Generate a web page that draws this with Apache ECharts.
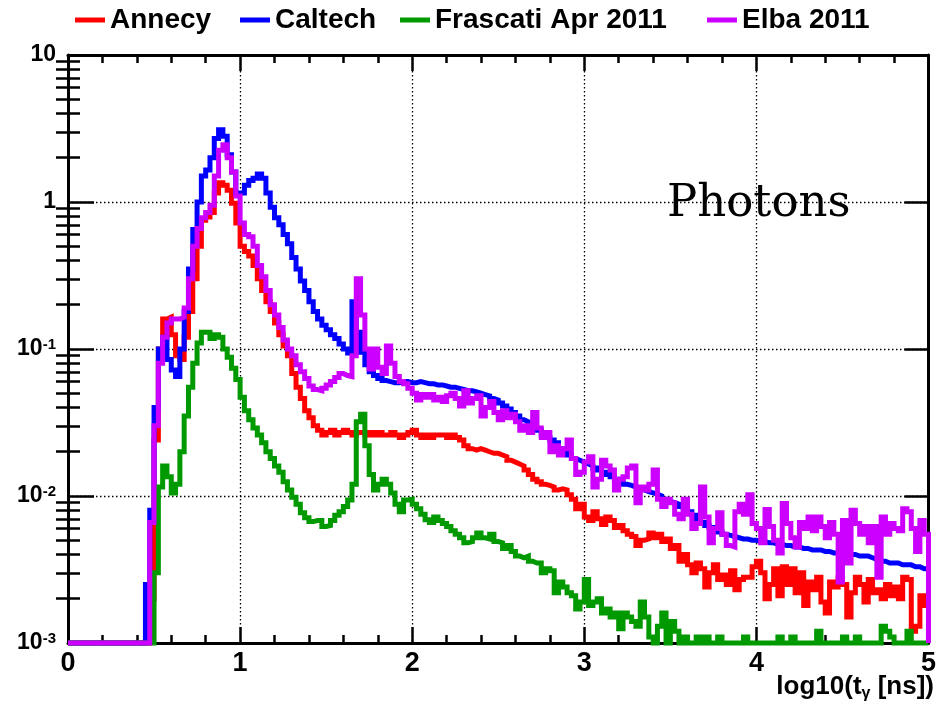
<!DOCTYPE html>
<html><head><meta charset="utf-8">
<script src="https://cdn.jsdelivr.net/npm/echarts@6/dist/echarts.min.js"></script>
<style>html,body{margin:0;padding:0;background:#fff}#c{width:939px;height:709px}</style>
</head><body><div id="c"></div>
<script>
// Histogram: 200 bins of width 0.025 in log10(t [ns]) from 0 to 5
const BIN_WIDTH = 0.025;
const X_MIN = 0, X_MAX = 5;
const Y_MIN = 0.001, Y_MAX = 10;
const seriesNames = ['Annecy', 'Caltech', 'Frascati Apr 2011', 'Elba 2011'];
const seriesColors = ['#ff0000', '#0000ff', '#009900', '#cc00ff'];

const annecy = [
0.001,0.001,0.001,0.001,0.001,0.001,0.001,0.001,0.001,0.001,
0.001,0.001,0.001,0.001,0.001,0.001,0.001,0.001,0.001,0.002,
0.024,0.1,0.16,0.165,0.125,0.09,0.085,0.12,0.18,0.3,
0.5,0.75,0.79,0.85,1.15,1.35,1.3,1.2,0.98,0.72,
0.5,0.46,0.43,0.37,0.3,0.25,0.21,0.18,0.15,0.125,
0.105,0.09,0.068,0.055,0.046,0.038,0.034,0.030,0.028,0.026,
0.027,0.028,0.026,0.027,0.028,0.027,0.026,0.027,0.027,0.026,
0.027,0.026,0.027,0.026,0.026,0.027,0.026,0.025,0.026,0.027,
0.028,0.026,0.025,0.026,0.025,0.026,0.026,0.026,0.025,0.026,
0.025,0.024,0.022,0.021,0.0205,0.021,0.0205,0.020,0.0195,0.0195,
0.019,0.0185,0.0175,0.017,0.0165,0.016,0.015,0.014,0.013,0.0125,
0.012,0.0118,0.0115,0.011,0.0112,0.011,0.0102,0.0095,0.0082,0.0088,
0.0072,0.0068,0.0078,0.0070,0.0064,0.0072,0.0068,0.0061,0.0063,0.0058,
0.0055,0.0053,0.0046,0.0050,0.0051,0.0056,0.0052,0.0055,0.0049,0.0051,
0.0044,0.0046,0.0036,0.0040,0.0034,0.0030,0.0035,0.0032,0.0024,0.0030,
0.0034,0.0027,0.0029,0.0025,0.0031,0.0023,0.0027,0.0028,0.0028,0.0033,
0.0036,0.0030,0.0020,0.0025,0.0032,0.0021,0.0033,0.0025,0.0032,0.0022,
0.0030,0.0018,0.0026,0.0023,0.0028,0.0019,0.0016,0.0026,0.0024,0.0028,
0.0025,0.0015,0.0022,0.0028,0.0025,0.0019,0.0027,0.0022,0.0023,0.0020,
0.0025,0.0021,0.0024,0.0020,0.0028,0.0027,0.0012,0.0013,0.0021,0.0018
];

const caltech = [
0.001,0.001,0.001,0.001,0.001,0.001,0.001,0.001,0.001,0.001,
0.001,0.001,0.001,0.001,0.001,0.001,0.001,0.001,0.0025,0.008,
0.04,0.1,0.12,0.085,0.072,0.065,0.1,0.18,0.35,0.65,
1.0,1.5,1.65,2.0,2.7,3.1,2.8,2.1,1.6,1.15,
1.15,1.3,1.4,1.45,1.55,1.45,1.15,0.92,0.78,0.7,
0.6,0.52,0.42,0.35,0.29,0.25,0.21,0.18,0.16,0.145,
0.135,0.125,0.118,0.108,0.1,0.094,0.21,0.13,0.095,0.078,
0.07,0.066,0.063,0.061,0.06,0.059,0.059,0.06,0.06,0.059,
0.059,0.06,0.059,0.058,0.058,0.057,0.057,0.056,0.055,0.055,
0.054,0.053,0.052,0.052,0.051,0.050,0.049,0.048,0.046,0.045,
0.043,0.041,0.039,0.037,0.035,0.033,0.032,0.030,0.029,0.028,
0.026,0.025,0.024,0.023,0.021,0.020,0.019,0.018,0.0175,0.017,
0.0165,0.016,0.0155,0.015,0.0145,0.014,0.0135,0.013,0.0125,0.012,
0.0118,0.0115,0.0112,0.011,0.0107,0.0105,0.0103,0.010,0.0095,0.0092,
0.009,0.0088,0.0085,0.0082,0.0078,0.0074,0.0070,0.0066,0.0063,0.0061,
0.0059,0.0057,0.0055,0.0054,0.0053,0.0052,0.0051,0.0051,0.0050,0.0050,
0.0049,0.0049,0.0048,0.0048,0.0047,0.0047,0.0046,0.0046,0.0045,0.0045,
0.0044,0.0044,0.0043,0.0043,0.0043,0.0042,0.0042,0.0041,0.0041,0.0040,
0.0040,0.0040,0.0040,0.0039,0.0039,0.0039,0.0038,0.0037,0.0036,0.0036,
0.0035,0.0035,0.0035,0.0034,0.0034,0.0034,0.0033,0.0033,0.0032,0.0032
];

const frascati = [
0.001,0.001,0.001,0.001,0.001,0.001,0.001,0.001,0.001,0.001,
0.001,0.001,0.001,0.001,0.001,0.001,0.001,0.001,0.001,0.001,
0.003,0.0115,0.016,0.0135,0.0105,0.012,0.02,0.035,0.055,0.08,
0.11,0.13,0.13,0.118,0.125,0.12,0.1,0.088,0.074,0.062,
0.047,0.038,0.033,0.029,0.026,0.023,0.02,0.018,0.016,0.0145,
0.0125,0.011,0.0098,0.0088,0.0077,0.0071,0.0067,0.0068,0.0068,0.0062,
0.0063,0.0068,0.0074,0.0078,0.0085,0.0094,0.012,0.032,0.036,0.022,
0.014,0.011,0.012,0.013,0.012,0.0105,0.0088,0.0078,0.0094,0.0095,
0.0088,0.0082,0.0075,0.0069,0.0066,0.0072,0.0068,0.0065,0.0062,0.0058,
0.0055,0.0052,0.0048,0.0049,0.0052,0.0056,0.0052,0.0051,0.0055,0.0049,
0.0048,0.0044,0.0046,0.0042,0.0039,0.0038,0.0039,0.0036,0.0035,0.0035,
0.0030,0.0032,0.0031,0.0022,0.0026,0.0024,0.0022,0.0021,0.0017,0.0019,
0.0027,0.0018,0.0019,0.0020,0.0016,0.0017,0.0015,0.0016,0.00125,0.0016,
0.0015,0.0014,0.0013,0.0019,0.0015,0.0011,0.001,0.0013,0.0016,0.001,
0.0014,0.0012,0.001,0.0011,0.001,0.001,0.0011,0.001,0.0011,0.001,
0.001,0.0011,0.001,0.001,0.001,0.001,0.001,0.0011,0.001,0.001,
0.001,0.001,0.001,0.001,0.001,0.0011,0.001,0.001,0.0011,0.001,
0.001,0.001,0.001,0.001,0.0012,0.001,0.001,0.001,0.001,0.001,
0.0011,0.001,0.001,0.0011,0.001,0.001,0.001,0.001,0.001,0.0013,
0.0012,0.0011,0.001,0.001,0.001,0.0012,0.001,0.001,0.001,0.001
];

const elba = [
0.001,0.001,0.001,0.001,0.001,0.001,0.001,0.001,0.001,0.001,
0.001,0.001,0.001,0.001,0.001,0.001,0.001,0.001,0.001,0.0066,
0.03,0.08,0.12,0.15,0.16,0.16,0.165,0.19,0.3,0.5,
0.66,0.78,0.85,0.95,1.5,2.25,2.45,2.0,1.6,1.1,
0.72,0.6,0.58,0.5,0.37,0.31,0.25,0.2,0.17,0.14,
0.115,0.1,0.09,0.078,0.07,0.063,0.056,0.053,0.052,0.054,
0.057,0.06,0.064,0.068,0.066,0.065,0.09,0.3,0.17,0.1,
0.073,0.1,0.075,0.068,0.105,0.08,0.065,0.06,0.058,0.054,
0.05,0.045,0.049,0.047,0.049,0.045,0.047,0.044,0.048,0.05,
0.046,0.041,0.052,0.043,0.046,0.048,0.035,0.04,0.044,0.037,
0.033,0.038,0.034,0.036,0.032,0.028,0.03,0.027,0.037,0.029,
0.025,0.027,0.02,0.022,0.019,0.021,0.024,0.018,0.014,0.0145,
0.017,0.0185,0.0115,0.013,0.0175,0.016,0.015,0.011,0.013,0.0135,
0.0155,0.016,0.009,0.0115,0.011,0.012,0.015,0.0095,0.0085,0.0095,
0.009,0.0075,0.007,0.0095,0.0075,0.006,0.0065,0.0115,0.0072,0.0048,
0.006,0.0077,0.0055,0.0046,0.0045,0.0078,0.0088,0.0075,0.0102,0.0065,
0.006,0.0048,0.0081,0.0062,0.005,0.0041,0.0089,0.0065,0.0052,0.0045,
0.0066,0.006,0.0072,0.0058,0.0072,0.0062,0.0052,0.0066,0.0055,0.0026,
0.0068,0.0035,0.008,0.0065,0.0055,0.0062,0.0048,0.0062,0.0028,0.0072,
0.0055,0.0065,0.006,0.0058,0.0082,0.0078,0.006,0.0042,0.0068,0.0055
];

const yMajorTicks = [0.001, 0.01, 0.1, 1, 10];
const yMinorTicks = [
0.002,0.003,0.004,0.005,0.006,0.007,0.008,0.009,
0.02,0.03,0.04,0.05,0.06,0.07,0.08,0.09,
0.2,0.3,0.4,0.5,0.6,0.7,0.8,0.9,
2,3,4,5,6,7,8,9
];
const xAxisTitle = 'log10(t{sub|γ} [ns])';
const annotation = 'Photons';

const allValues = [annecy, caltech, frascati, elba];

// histogram outline: value held over each bin, closed to the axis floor at the upper edge
function histPoints(vals) {
  const pts = vals.map((v, i) => [i * BIN_WIDTH, v]);
  pts.push([X_MAX, vals[vals.length - 1]]);
  pts.push([X_MAX, Y_MIN]);
  return pts;
}

const FONT = 'Liberation Sans';
const chart = echarts.init(document.getElementById('c'), null, {renderer: 'canvas'});

const yLabelFmt = function (v) {
  const e = Math.round(Math.log10(v));
  if (e === 0) return '1';
  if (e === 1) return '10';
  return '10{sup|' + e + '}';
};

const xCommon = {
  type: 'value', min: X_MIN, max: X_MAX, interval: 1,
  axisLine: {show: true, onZero: false, lineStyle: {color: '#000', width: 3}},
  axisTick: {show: true, inside: true, length: 16, lineStyle: {color: '#000', width: 2.5}},
  minorTick: {show: true, splitNumber: 5, length: 8, lineStyle: {color: '#000', width: 2.5}}
};

const yMajor = (pos, len, labels, split) => ({
  type: 'log', logBase: 10, min: Y_MIN, max: Y_MAX, position: pos, offset: 0,
  axisLine: {show: true, onZero: false, lineStyle: {color: '#000', width: 3}},
  axisTick: {show: true, inside: true, length: len, customValues: yMajorTicks, lineStyle: {color: '#000', width: 2.5}},
  axisLabel: labels ? {
    show: true, margin: 12, formatter: yLabelFmt, customValues: yMajorTicks,
    color: '#000', fontFamily: FONT, fontWeight: 'bold', fontSize: 23,
    rich: {sup: {fontFamily: FONT, fontWeight: 'bold', fontSize: 15, color: '#000', verticalAlign: 'top'}}
  } : {show: false},
  splitLine: split ? {show: true, lineStyle: {color: '#000', width: 1.3, type: [1.5, 2.5]}} : {show: false}
});
const yMinor = (pos, len) => ({
  type: 'log', logBase: 10, min: Y_MIN, max: Y_MAX, position: pos, offset: 0,
  axisLine: {show: false},
  axisTick: {show: true, inside: true, length: len, customValues: yMinorTicks, lineStyle: {color: '#000', width: 2.5}},
  axisLabel: {show: false},
  splitLine: {show: false}
});

const legendCommon = {
  top: 6, icon: 'rect', itemWidth: 30, itemHeight: 5, itemGap: 0, padding: 0,
  selectedMode: false,
  textStyle: {fontFamily: FONT, fontWeight: 'bold', fontSize: 28, color: '#000'}
};
const legendLeft = [75, 240, 400, 707];

chart.setOption({
  animation: false,
  backgroundColor: '#fff',
  textStyle: {fontFamily: FONT},
  grid: {left: 68, right: 6, top: 55, bottom: 66, containLabel: false},
  title: [
    {text: xAxisTitle, right: 5, top: 672, padding: 0,
     textStyle: {fontFamily: FONT, fontWeight: 'bold', fontSize: 26, color: '#000', lineHeight: 30,
       rich: {sub: {fontFamily: FONT, fontWeight: 'bold', fontSize: 16, color: '#000', verticalAlign: 'bottom', lineHeight: 16}}}},
    {text: annotation, left: 667, top: 182, padding: 0,
     textStyle: {fontFamily: 'DejaVu Serif', fontWeight: 'normal', fontSize: 45, color: '#000'}}
  ],
  legend: seriesNames.map((n, i) => Object.assign({}, legendCommon, {data: [n], left: legendLeft[i]})),
  xAxis: [
    Object.assign({}, xCommon, {position: 'bottom',
      axisLabel: {show: true, margin: 7, color: '#000', fontFamily: FONT, fontWeight: 'bold', fontSize: 27},
      splitLine: {show: true, lineStyle: {color: '#000', width: 1.3, type: [1.5, 2.5]}}}),
    Object.assign({}, xCommon, {position: 'top', axisLabel: {show: false}, splitLine: {show: false}})
  ],
  yAxis: [
    yMajor('left', 26, true, true),
    yMinor('left', 12),
    yMajor('right', 24, false, false),
    yMinor('right', 12)
  ],
  series: seriesNames.map((n, i) => ({
    name: n, type: 'line', xAxisIndex: 0, yAxisIndex: 0,
    data: histPoints(allValues[i]),
    step: 'end', symbol: 'none', showSymbol: false, clip: false,
    lineStyle: {color: seriesColors[i], width: 5, cap: 'butt', join: 'miter'},
    itemStyle: {color: seriesColors[i]},
    emphasis: {disabled: true}
  }))
});
</script>
</body></html>
